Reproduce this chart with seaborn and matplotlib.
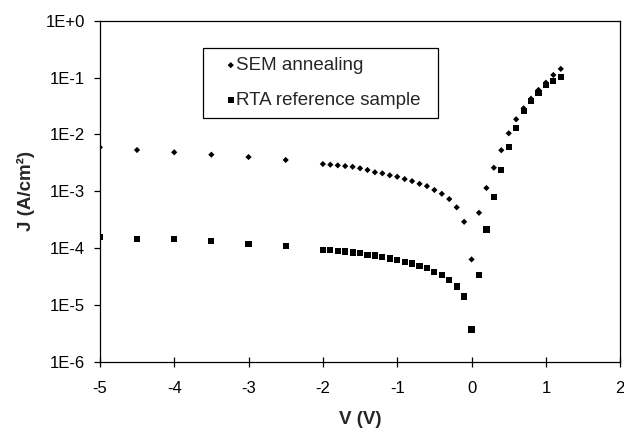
import matplotlib
matplotlib.use("Agg")
import matplotlib.pyplot as plt
import seaborn as sns

# voltage steps (V)
v_sem = [-5.0, -4.5, -4.0, -3.5, -3.0, -2.5,
         -2.0, -1.9, -1.8, -1.7, -1.6, -1.5, -1.4, -1.3, -1.2, -1.1,
         -1.0, -0.9, -0.8, -0.7, -0.6, -0.5, -0.4, -0.3, -0.2, -0.1,
         0.0, 0.1, 0.2, 0.3, 0.4, 0.5, 0.6, 0.7, 0.8, 0.9, 1.0, 1.1, 1.2]
v_rta = list(v_sem)

# current density (A/cm^2)
j_sem = [5.96e-3, 5.34e-3, 4.87e-3, 4.42e-3, 4.02e-3, 3.57e-3,
         3.03e-3, 2.95e-3, 2.87e-3, 2.79e-3, 2.71e-3, 2.55e-3, 2.38e-3,
         2.17e-3, 2.08e-3, 1.92e-3, 1.81e-3, 1.65e-3, 1.52e-3, 1.36e-3,
         1.24e-3, 1.06e-3, 9.1e-4, 7.35e-4, 5.26e-4, 2.93e-4,
         6.41e-5, 4.22e-4, 1.15e-3, 2.61e-3, 5.3e-3, 1.05e-2, 1.85e-2,
         2.88e-2, 4.25e-2, 6.05e-2, 8.13e-2, 0.111, 0.142]
j_rta = [1.6e-4, 1.44e-4, 1.44e-4, 1.33e-4, 1.21e-4, 1.10e-4,
         9.33e-5, 9.33e-5, 9.08e-5, 8.85e-5, 8.50e-5, 8.27e-5, 7.73e-5,
         7.52e-5, 7.13e-5, 6.66e-5, 6.31e-5, 5.82e-5, 5.44e-5, 4.95e-5,
         4.57e-5, 3.88e-5, 3.40e-5, 2.81e-5, 2.15e-5, 1.43e-5,
         3.77e-6, 3.40e-5, 2.15e-4, 8.07e-4, 2.35e-3, 5.96e-3, 1.29e-2,
         2.59e-2, 3.93e-2, 5.43e-2, 7.41e-2, 8.71e-2, 0.101]

x_ticks = [-5, -4, -3, -2, -1, 0, 1, 2]
y_ticks = [1e-6, 1e-5, 1e-4, 1e-3, 1e-2, 1e-1, 1e0]
y_tick_labels = ["1E-6", "1E-5", "1E-4", "1E-3", "1E-2", "1E-1", "1E+0"]

sns.set_style("ticks")
plt.rcParams["font.family"] = ["Liberation Sans", "DejaVu Sans"]
plt.rcParams["axes.unicode_minus"] = False

fig = plt.figure(figsize=(6.24, 4.29), dpi=100)
ax = fig.add_axes([0.160, 0.1555, 0.834, 0.7965])

sns.scatterplot(x=v_sem, y=j_sem, marker="D", s=10, color="black",
                edgecolor="none", label="SEM annealing", ax=ax)
sns.scatterplot(x=v_rta, y=j_rta, marker="s", s=20, color="black",
                edgecolor="none", label="RTA reference sample", ax=ax)

ax.set_yscale("log")
ax.set_xlim(-5, 2)
ax.set_ylim(1e-6, 1)
ax.set_xticks(x_ticks, [str(t) for t in x_ticks])
ax.set_yticks(y_ticks, y_tick_labels)
ax.minorticks_off()

for side in ["left", "right", "top", "bottom"]:
    ax.spines[side].set_color("black")
    ax.spines[side].set_linewidth(0.9)

ax.tick_params(axis="x", direction="inout", length=7, width=0.9,
               pad=10, labelsize=12, colors="black")
ax.tick_params(axis="y", direction="out", length=4.5, width=0.9,
               pad=6, labelsize=12, colors="black")

ax.set_xlabel("V (V)", fontsize=13.5, fontweight="bold", labelpad=11)
ax.set_ylabel("J (A/cm²)", fontsize=13.5, fontweight="bold", labelpad=8)

leg = ax.legend(loc="upper left", bbox_to_anchor=(0.1975, 0.5, 0.453, 0.421),
                mode="expand", borderaxespad=0, borderpad=0.5,
                handlelength=2.0, handletextpad=-0.7, labelspacing=0.95,
                fontsize=13.5, frameon=True, fancybox=False, framealpha=1)
leg.get_frame().set_edgecolor("black")
leg.get_frame().set_linewidth(0.9)

fig.savefig("out.png", dpi=100)
